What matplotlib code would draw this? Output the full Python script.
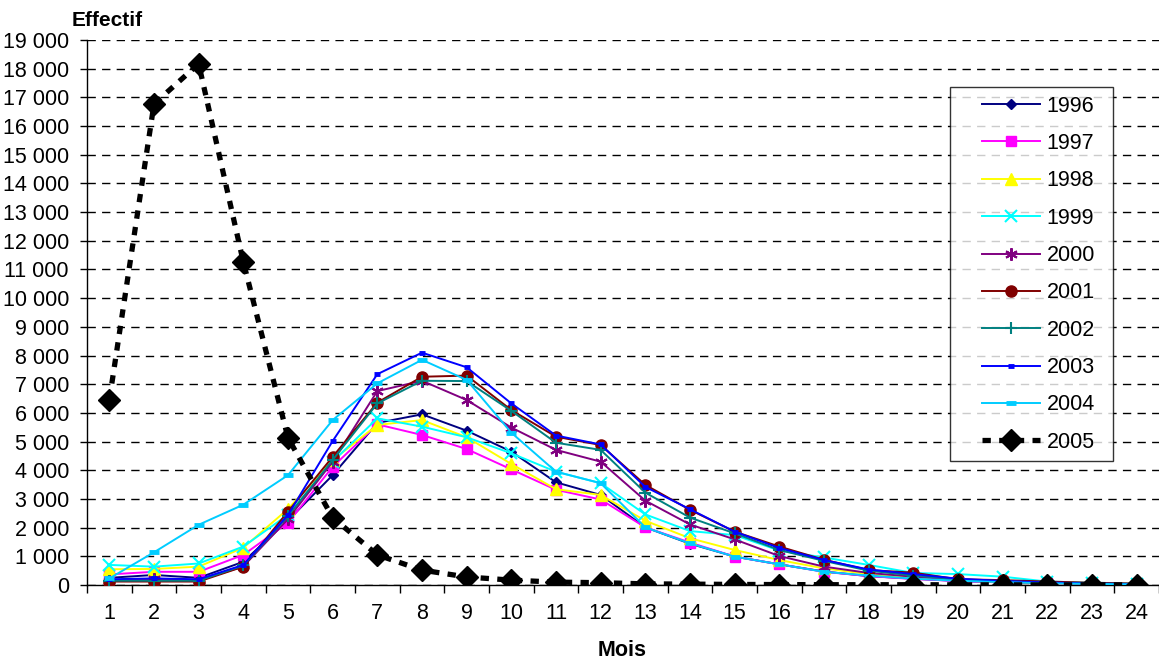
import numpy as np
import matplotlib.pyplot as plt
from matplotlib.ticker import FixedLocator, FuncFormatter
from matplotlib.legend_handler import HandlerLine2D

plt.rcParams['font.family'] = ['Liberation Sans', 'DejaVu Sans']
plt.rcParams['lines.scale_dashes'] = False

mois = list(range(1, 25))

eff_1996 = [250, 350, 250, 810, 2250, 3830, 5650, 5950, 5380, 4650, 3580, 3140,
            2010, 1440, 990, 720, 470, 310, 220, 140, 90, 60, 40, 20]
eff_1997 = [370, 460, 460, 1050, 2170, 4120, 5600, 5230, 4740, 4030, 3320, 2980,
            2010, 1480, 990, 720, 460, 310, 210, 140, 90, 60, 40, 20]
eff_1998 = [550, 560, 640, 1300, 2650, 4350, 5580, 5750, 5150, 4220, 3340, 3140,
            2240, 1630, 1220, 870, 580, 380, 250, 160, 100, 60, 40, 20]
eff_1999 = [700, 640, 750, 1340, 2450, 4300, 5810, 5520, 5150, 4590, 3950, 3550,
            2460, 1880, 1740, 1200, 960, 700, 420, 380, 290, 120, 80, 50]
eff_2000 = [150, 200, 150, 650, 2300, 4300, 6760, 7120, 6450, 5490, 4710, 4300,
            2940, 2110, 1590, 1010, 640, 420, 290, 180, 110, 70, 40, 20]
eff_2001 = [120, 120, 120, 640, 2560, 4470, 6360, 7260, 7300, 6100, 5170, 4880,
            3490, 2620, 1860, 1340, 880, 520, 430, 200, 170, 120, 80, 50]
eff_2002 = [150, 150, 150, 680, 2400, 4360, 6330, 7120, 7110, 6070, 4960, 4710,
            3220, 2350, 1800, 1220, 840, 500, 330, 200, 130, 80, 50, 30]
eff_2003 = [200, 230, 200, 700, 2440, 5020, 7350, 8100, 7590, 6330, 5210, 4900,
            3420, 2640, 1860, 1290, 870, 540, 380, 220, 140, 90, 50, 30]
eff_2004 = [230, 1140, 2100, 2800, 3830, 5750, 7030, 7850, 7150, 5310, 3950, 3550,
            2010, 1450, 990, 720, 460, 330, 220, 150, 100, 60, 40, 20]
eff_2005 = [6450, 16770, 18170, 11260, 5130, 2350, 1050, 520, 280, 170, 100, 80,
            40, 30, 20, 15, 10, 10, 10, 5, 5, 5, 5, 5]

# style Excel : (annee, valeurs, couleur, marqueur, taille, epaisseur du marqueur)
series = [
    ('1996', eff_1996, '#000080', 'D', 5, 1.0),
    ('1997', eff_1997, '#FF00FF', 's', 7, 1.0),
    ('1998', eff_1998, '#FFFF00', '^', 8, 1.0),
    ('1999', eff_1999, '#00FFFF', 'x', 8, 1.5),
    ('2000', eff_2000, '#800080', (6, 2, 0), 9, 1.5),
    ('2001', eff_2001, '#800000', 'o', 8, 1.0),
    ('2002', eff_2002, '#008080', '+', 9, 1.5),
    ('2003', eff_2003, '#0000FF', '_', 5, 3.5),
    ('2004', eff_2004, '#00CCFF', '_', 7, 3.5),
]

fig = plt.figure(figsize=(11.59, 6.6), dpi=100)
ax = fig.add_axes([87 / 1159, 1 - 585 / 660, 1 - 87 / 1159, (585 - 40) / 660])

for annee, vals, col, mk, ms, mew in series:
    ax.plot(mois, vals, color=col, lw=1.4, marker=mk, markersize=ms,
            markerfacecolor=col, markeredgecolor=col, markeredgewidth=mew,
            label=annee, zorder=3)

ax.plot(mois, eff_2005, color='black', lw=3.8, linestyle=(0, (6, 6)),
        marker='D', markersize=11, markerfacecolor='black',
        markeredgecolor='black', label='2005', zorder=4)

ax.set_xlim(0.5, 24.5)
ax.set_ylim(0, 19000)
ax.set_yticks(np.arange(0, 19001, 1000))
ax.yaxis.set_major_formatter(FuncFormatter(lambda v, p: f"{v:,.0f}".replace(',', ' ')))
ax.set_xticks(mois)
ax.xaxis.set_minor_locator(FixedLocator(np.arange(0.5, 25, 1)))
ax.tick_params(axis='x', which='major', length=0, pad=13, labelsize=15.5)
ax.tick_params(axis='x', which='minor', length=6, width=1, direction='out')
ax.tick_params(axis='y', length=5, width=1, direction='out', pad=8, labelsize=15.5)

ax.yaxis.grid(True, color='black', lw=1, linestyle=(0, (6, 4.5)))
ax.set_axisbelow(True)
for s in ['top', 'right']:
    ax.spines[s].set_visible(False)
for s in ['left', 'bottom']:
    ax.spines[s].set_color('black')
    ax.spines[s].set_linewidth(1)

fig.text(107 / 1159, 1 - 20 / 660, 'Effectif', fontsize=15, fontweight='bold',
         ha='center', va='center')
fig.text(622 / 1159, 1 - 651 / 660, 'Mois', fontsize=15.5, fontweight='bold',
         ha='center', va='center')

# cadre de legende : x 950-1113 px, haut a 87 px
leg_box = (950 / 1159, 1 - 87 / 660, (1113 - 950) / 1159, 0)
leg = ax.legend(loc='upper left', bbox_to_anchor=leg_box, mode='expand',
                bbox_transform=fig.transFigure, fontsize=15.5, frameon=True,
                fancybox=False, edgecolor='black', borderpad=0.4,
                borderaxespad=0, handlelength=3.8, handletextpad=0.3,
                labelspacing=0.76,
                handler_map={plt.Line2D: HandlerLine2D(xpad=1.1)})
leg.get_frame().set_linewidth(1)
leg.set_zorder(6)

fig.savefig('out.png', dpi=100)
